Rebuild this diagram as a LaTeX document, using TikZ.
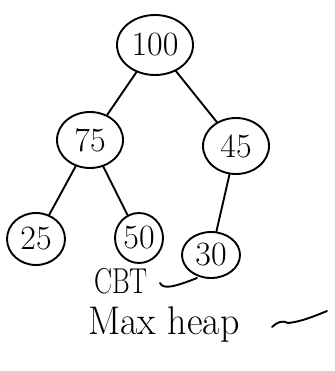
\documentclass[tikz,border=0pt]{standalone}
\usetikzlibrary{shapes.geometric}
\begin{document}
\begin{tikzpicture}[x=1pt,y=-1pt,
  keynode/.style={ellipse,draw,line width=1.9pt,inner sep=0pt,
    font=\fontsize{34}{34}\selectfont},
  link/.style={line width=1.9pt,line cap=round},
  note/.style={inner sep=0pt}]
\useasboundingbox (0,0) rectangle (334,371);
% heap nodes
\node[keynode,minimum width=76,minimum height=60] (n100) at (155,45) {100};
\node[keynode,minimum width=66,minimum height=56] (n75) at (90,140) {75};
\node[keynode,minimum width=66,minimum height=56] (n45) at (236,146) {45};
\node[keynode,minimum width=58,minimum height=52] (n25) at (36,239) {25};
\node[keynode,minimum width=48,minimum height=50] (n50) at (139,238) {50};
\node[keynode,minimum width=58,minimum height=46] (n30) at (211,255) {30};
% parent-child links
\draw[link] (n100) -- (n75);
\draw[link] (n100) -- (n45);
\draw[link] (n75) -- (n25);
\draw[link] (n75) -- (n50);
\draw[link] (n45) -- (n30);
% notes with check marks
\node[note,font=\fontsize{36}{36}\selectfont] (cbt) at (121,281) {\scalebox{0.75}[1]{CBT}};
\node[note,anchor=base west,font=\fontsize{40}{40}\selectfont] (maxheap) at (88,334) {\scalebox{0.95}[1]{Max heap}};
\draw[link] (160,283) .. controls (163,289) and (172,288) .. (197,278);
\draw[link] (272,327) .. controls (277,322) and (283,320) .. (288,323)
  .. controls (300,322) and (315,316) .. (327,311);
\end{tikzpicture}
\end{document}
